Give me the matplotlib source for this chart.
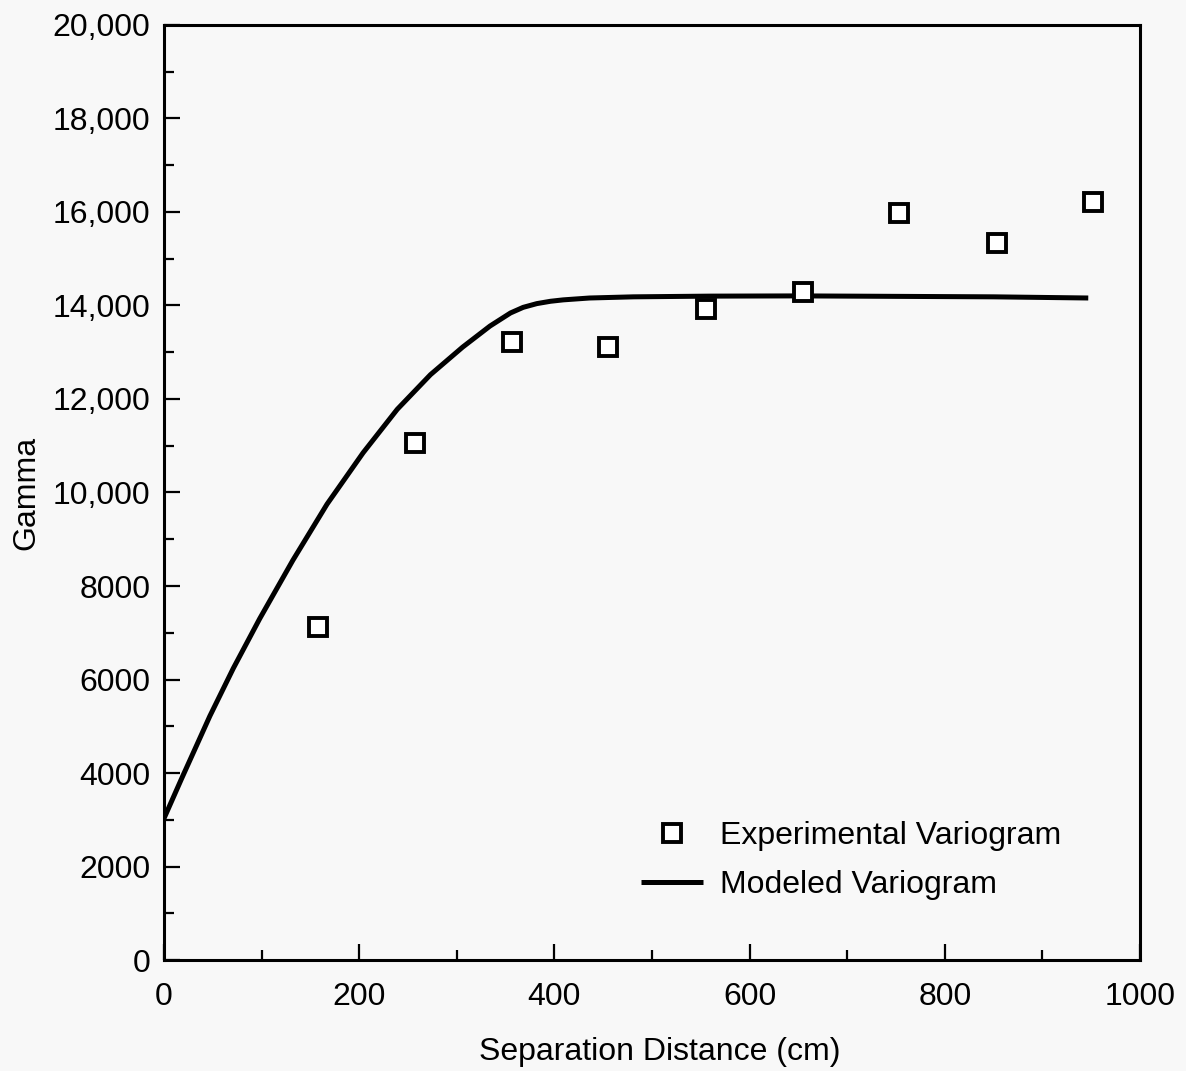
import matplotlib.pyplot as plt
from matplotlib.ticker import MultipleLocator, FuncFormatter

plt.rcParams['font.family'] = ['Liberation Sans', 'DejaVu Sans']

## experimental variogram
exp_dist = [158, 257, 357, 455, 555, 655, 753, 853, 952]
exp_gamma = [7120, 11060, 13220, 13110, 13925, 14290, 15980, 15340, 16215]

## modeled variogram, traced points
mod_dist = [0, 18, 47, 71, 98, 132, 167, 204, 239, 273, 306, 334, 355, 368,
            382, 396, 409, 436, 481, 560, 652, 750, 850, 947]
mod_gamma = [3030, 3880, 5220, 6240, 7300, 8550, 9750, 10850, 11780, 12520,
             13110, 13560, 13840, 13960, 14040, 14090, 14120, 14160, 14185,
             14200, 14205, 14195, 14185, 14160]

fig = plt.figure(figsize=(11.86, 10.71), dpi=100, facecolor='#f8f8f8')
ax = fig.add_axes([0.1383, 0.1036, 0.8229, 0.8731], facecolor='#f8f8f8')

ax.plot(mod_dist, mod_gamma, color='black', lw=3.6, solid_capstyle='butt',
        solid_joinstyle='round', label='Modeled Variogram', zorder=2)
ax.plot(exp_dist, exp_gamma, ls='none', marker='s', ms=13.5, mfc='white',
        mec='black', mew=2.8, label='Experimental Variogram', zorder=3)

ax.set_xlim(0, 1000)
ax.set_ylim(0, 20000)
ax.xaxis.set_major_locator(MultipleLocator(200))
ax.xaxis.set_minor_locator(MultipleLocator(100))
ax.yaxis.set_major_locator(MultipleLocator(2000))
ax.yaxis.set_minor_locator(MultipleLocator(1000))
ax.yaxis.set_major_formatter(FuncFormatter(
    lambda v, p: f"{int(v):,}" if v >= 10000 else f"{int(v)}"))

ax.tick_params(which='both', direction='in', width=1.6, labelsize=23,
               top=False, right=False)
ax.tick_params(axis='x', pad=16)
ax.tick_params(axis='y', pad=10)
ax.tick_params(which='major', length=11.5)
ax.tick_params(which='minor', length=7.5)
for s in ax.spines.values():
    s.set_linewidth(2.2)

ax.set_xlabel('Separation Distance (cm)', fontsize=23, labelpad=18)
ax.xaxis.label.set_x(0.508)
ax.set_ylabel('Gamma', fontsize=23, labelpad=8)

h, l = ax.get_legend_handles_labels()
ax.legend(h[::-1], l[::-1], loc='lower left', bbox_to_anchor=(0.459, 0.033),
          frameon=False, fontsize=23, handlelength=1.95, handletextpad=0.53,
          labelspacing=0.6)

fig.savefig('out.png', dpi=100, facecolor=fig.get_facecolor())
